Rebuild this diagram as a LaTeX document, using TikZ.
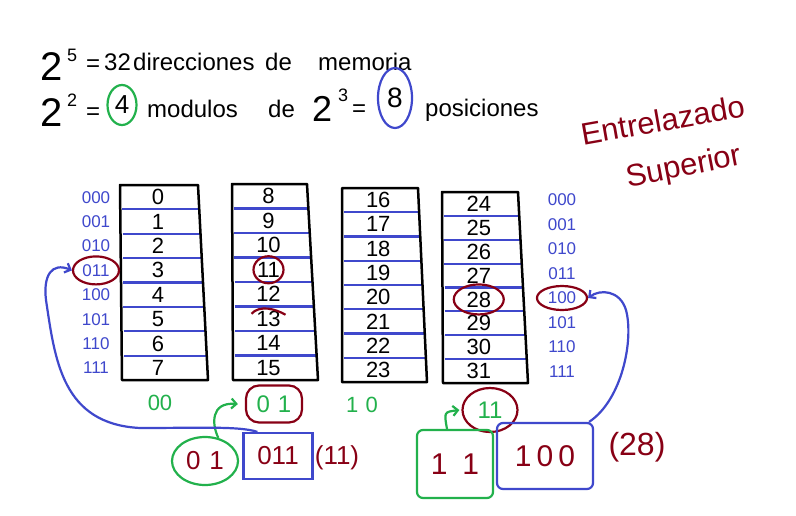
\documentclass[tikz,border=0pt]{standalone}
\usepackage{fontspec}
\setmainfont{Liberation Sans}
\usetikzlibrary{shapes.geometric,arrows.meta}
\definecolor{hblue}{RGB}{63,72,204}
\definecolor{hgreen}{RGB}{34,177,76}
\definecolor{hred}{RGB}{136,0,21}
\begin{document}
\begin{tikzpicture}[x=1pt,y=-1pt,
  txt/.style={font=\fontsize{24}{28}\selectfont, inner sep=0pt, anchor=base west},
  bigtxt/.style={font=\fontsize{40}{44}\selectfont, inner sep=0pt, anchor=base west},
  suptxt/.style={font=\fontsize{18}{20}\selectfont, inner sep=0pt, anchor=base west},
  num/.style={font=\fontsize{22}{24}\selectfont, inner sep=0pt},
  bin/.style={font=\fontsize{17}{19}\selectfont, text=hblue, inner sep=0pt},
  colbox/.style={draw=black, line width=2.5pt, line join=round},
  sepline/.style={draw=hblue, line width=2.2pt},
  rring/.style={draw=hred, line width=2.2pt, ellipse, inner sep=0pt},
  pen/.style={line width=2.2pt},
  tip/.style={-{Straight Barb[length=5pt,width=10pt]}},
  redtxt/.style={text=hred, font=\fontsize{26}{30}\selectfont, inner sep=0pt}
]
\useasboundingbox[fill=white] (0,0) rectangle (796,515);

% title lines
\node[bigtxt] (t2a) at (40,80) {2};
\node[suptxt] (t5) at (67,61) {5};
\node[txt] (teqa) at (86,71) {=};
\node[txt] (t32) at (104,70) {32};
\node[txt] (tdir) at (133,70) {direcciones};
\node[txt] (tdea) at (265,70) {de};
\node[txt] (tmem) at (318,70) {memoria};

\node[bigtxt] (t2b) at (40,126) {2};
\node[suptxt] (t2s) at (67,106) {2};
\node[txt] (teqb) at (86,119) {=};
\node[ellipse, draw=hgreen, pen, inner sep=0pt, minimum width=29, minimum height=40,
      font=\fontsize{26}{30}\selectfont] (t4) at (122,105) {4};
\node[txt] (tmod) at (147,117) {modulos};
\node[txt] (tdeb) at (268,117) {de};
\node[bigtxt, font=\fontsize{36}{40}\selectfont] (t2c) at (312,121) {2};
\node[suptxt] (t3) at (338,101) {3};
\node[txt] (teqc) at (352,116) {=};
\node[ellipse, draw=hblue, pen, inner sep=0pt, minimum width=34, minimum height=60,
      font=\fontsize{28}{30}\selectfont] (t8) at (395,98) {8};
\node[txt] (tpos) at (425,116) {posiciones};

% Entrelazado Superior
\node[text=hred, font=\fontsize{31}{33}\selectfont, rotate=10, inner sep=0pt] (e1) at (663,120) {Entrelazado};
\node[text=hred, font=\fontsize{31}{33}\selectfont, rotate=11, inner sep=0pt] (e2) at (684,168) {Superior};

% columns
\foreach \c/\xl/\xr/\xbl/\xbr/\yt/\yb in {0/120/198/122/208/185/380, 1/232/307/233/318/184/380, 2/342/418/342/427/188/382, 3/442/518/443/528/192/383}{
  \foreach \k in {1,...,7}{
    \draw[sepline] ({\xl+(\xbl-\xl)*\k/8+2},{\yt+(\yb-\yt)*\k/8}) -- ({\xr+(\xbr-\xr)*\k/8},{\yt+(\yb-\yt)*\k/8});
  }
  \draw[colbox] (\xl,\yt) -- (\xr,\yt) -- (\xbr,\yb) -- (\xbl,\yb) -- cycle;
  \foreach \i in {0,...,7}{
    \pgfmathtruncatemacro{\v}{\c*8+\i}
    \node[num] (n\c-\i) at ({(\xl+\xr+\xbl+\xbr)/4-4},{\yt+(\yb-\yt)*(\i+0.5)/8}) {\v};
  }
}

% binary labels
\foreach \b [count=\i from 0] in {000,001,010,011,100,101,110,111}{
  \node[bin] (bl\i) at (96,{185+(\i+0.5)*24.4}) {\b};
  \node[bin] (br\i) at (562,{200+24.5*\i}) {\b};
}

% red rings
\node[rring, minimum width=46, minimum height=28] (cl) at (bl3) {};
\node[rring, minimum width=50, minimum height=24] (cr) at (br4) {};
\node[rring, minimum width=30, minimum height=27] (c11) at (n1-3) {};
\node[rring, minimum width=50, minimum height=30] (c28) at (n3-4) {};
\draw[hred, pen] (n1-5) ++(-17,-5) .. controls +(8,-9) and +(-10,-6) .. ++(34,1);

% module numbers
\node[num, text=hgreen] (m0) at (160,403) {00};
\node[num, text=hgreen, draw=hred, pen, rounded corners=13pt, minimum width=56, minimum height=37,
      font=\fontsize{24}{26}\selectfont] (m1) at (274,404) {0\,\,1};
\node[num, text=hgreen] (m2) at (362,405) {1\,\,0};
\node[num, text=hgreen, draw=hred, pen, ellipse, minimum width=55, minimum height=44,
      font=\fontsize{24}{26}\selectfont] (m3) at (490,410) {11};

% bottom decomposition
\node[redtxt, ellipse, draw=hgreen, pen, minimum width=66, minimum height=48] (g1) at (205,461) {0\,\,1};
\node[redtxt, draw=hblue, pen, minimum width=69, minimum height=46] (bA) at (278,456) {011};
\node[redtxt] (p11) at (337,458) {(11)};
\node[redtxt, font=\fontsize{30}{32}\selectfont, draw=hgreen, pen, rounded corners=6pt,
      minimum width=76, minimum height=68] (g2) at (455,464) {1\,\,\,1};
\node[redtxt, font=\fontsize{30}{32}\selectfont, draw=hblue, pen, rounded corners=6pt,
      minimum width=96, minimum height=66] (bB) at (545,456) {1\,0\,0};
\node[redtxt, font=\fontsize{32}{34}\selectfont] (p28) at (637,447) {(28)};

% arrows
\draw[hgreen, pen, tip] (g1.60) .. controls (212,425) and (210,402) .. ([xshift=-7]m1.west);
\draw[hgreen, pen, tip] ([xshift=-8]g2.north) .. controls (444,412) .. ([xshift=-2]m3.west);
\draw[hblue, pen, tip] ([xshift=15]bA.north west) .. controls (240,426) and (200,428) .. (140,428)
   .. controls (62,424) and (55,360) .. (46,300) .. controls (43,275) and (52,262) .. (cl.west);
\draw[hblue, pen, tip] ([xshift=-5]bB.north east) .. controls (622,400) and (634,340) .. (626,310)
   .. controls (620,290) and (600,289) .. (cr.east);
\end{tikzpicture}
\end{document}
